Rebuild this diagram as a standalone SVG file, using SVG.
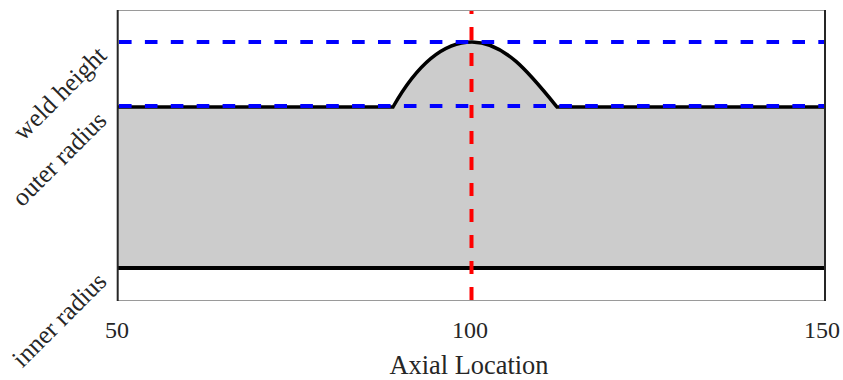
<svg xmlns="http://www.w3.org/2000/svg" width="843" height="380" viewBox="0 0 843 380">
<style>
.tick{font-family:"Liberation Serif","Times New Roman",serif;font-size:24px;fill:#262626}
.ylab{font-family:"Liberation Serif","Times New Roman",serif;font-size:25.5px;fill:#262626}
.lab{font-family:"Liberation Serif","Times New Roman",serif;font-size:26.4px;fill:#262626}
.blk{fill:none;stroke:#000;stroke-width:3.5}
.blue{fill:none;stroke:#0000ff;stroke-width:4;stroke-dasharray:12.6 13.3}
.red{fill:none;stroke:#ff0000;stroke-width:4;stroke-dasharray:13 13}
</style>
<rect x="0" y="0" width="843" height="380" fill="#fff"/>
<g id="pipe">
<path d="M118,107 H393 C415.1,68 440.4,42 472,42 C504.7,42 529.6,73.2 557,107 H825 V268 H118 Z" fill="#cccccc"/>
<path class="blk" d="M118,107 H393 C415.1,68 440.4,42 472,42 C504.7,42 529.6,73.2 557,107 H825"/>
<line class="blk" x1="118" y1="268" x2="825" y2="268" style="stroke-width:4"/>
</g>
<g id="connectors">
<line class="blue" x1="119" y1="42" x2="825" y2="42"/>
<line class="blue" x1="119" y1="106" x2="825" y2="106"/>
<line class="red" x1="471.5" y1="300" x2="471.5" y2="10"/>
</g>
<g id="axes">
<line x1="118" y1="10.5" x2="825" y2="10.5" stroke="#9a9a9a" stroke-width="1"/>
<line x1="118" y1="300.5" x2="825" y2="300.5" stroke="#9a9a9a" stroke-width="1"/>
<line x1="117.7" y1="10" x2="117.7" y2="301" stroke="#262626" stroke-width="2"/>
<line x1="825" y1="10" x2="825" y2="301" stroke="#262626" stroke-width="2"/>
<text class="tick" x="117" y="338" text-anchor="middle">50</text>
<text class="tick" x="470" y="338" text-anchor="middle">100</text>
<text class="tick" x="822" y="338" text-anchor="middle">150</text>
<text class="lab" x="469" y="374" text-anchor="middle">Axial Location</text>
<text class="ylab" text-anchor="end" transform="translate(108,57) rotate(-45)">weld height</text>
<text class="ylab" text-anchor="end" transform="translate(108,122) rotate(-45)">outer radius</text>
<text class="ylab" text-anchor="end" transform="translate(108,283) rotate(-45)">inner radius</text>
</g>
</svg>
